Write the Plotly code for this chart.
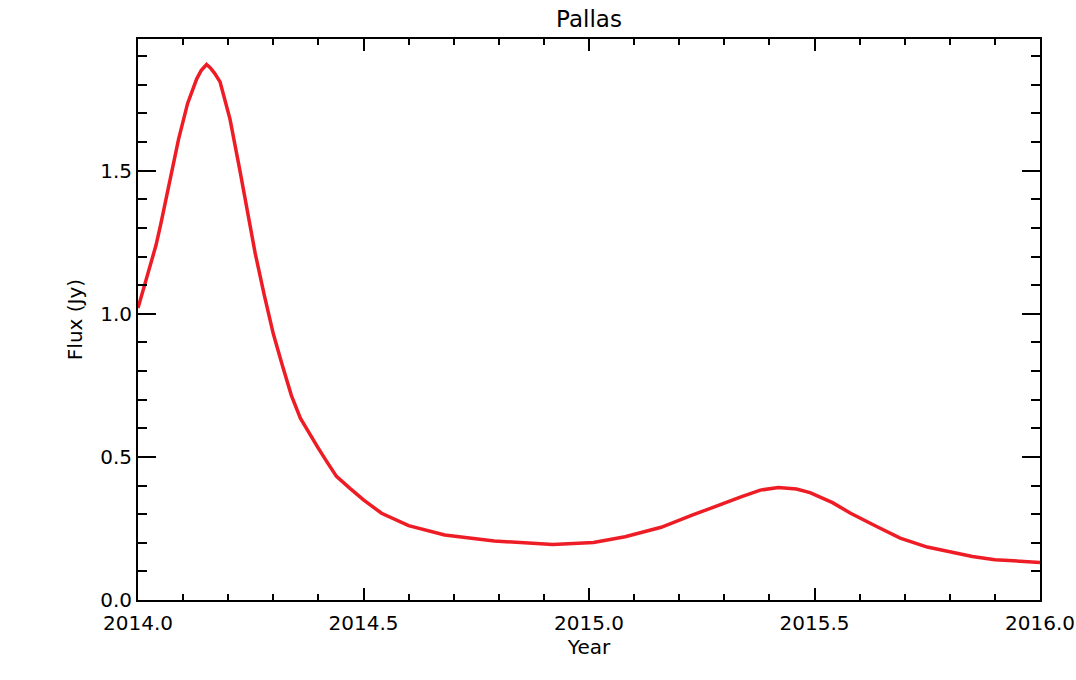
import plotly.graph_objects as go

# Pallas flux curve
years = [2014.00, 2014.02, 2014.04, 2014.05, 2014.07, 2014.09, 2014.11, 2014.13,
         2014.14, 2014.152, 2014.16, 2014.17, 2014.182, 2014.204, 2014.226, 2014.245,
         2014.26, 2014.28, 2014.30, 2014.32, 2014.34, 2014.36, 2014.38, 2014.40,
         2014.42, 2014.44, 2014.47, 2014.50, 2014.54, 2014.60, 2014.68, 2014.79,
         2014.92, 2015.01, 2015.08, 2015.16, 2015.23, 2015.30, 2015.34, 2015.38,
         2015.42, 2015.46, 2015.49, 2015.54, 2015.58, 2015.64, 2015.69, 2015.75,
         2015.80, 2015.85, 2015.90, 2015.95, 2016.00]
flux = [1.02, 1.13, 1.24, 1.31, 1.46, 1.61, 1.735, 1.82,
        1.85, 1.871, 1.86, 1.84, 1.81, 1.68, 1.50, 1.33,
        1.21, 1.065, 0.93, 0.82, 0.715, 0.635, 0.58, 0.53,
        0.48, 0.432, 0.39, 0.35, 0.303, 0.26, 0.227, 0.206,
        0.194, 0.201, 0.221, 0.254, 0.297, 0.34, 0.362, 0.384,
        0.393, 0.388, 0.375, 0.34, 0.303, 0.255, 0.216, 0.185,
        0.167, 0.152, 0.141, 0.135, 0.131]

font = "DejaVu Sans"

fig = go.Figure()
fig.add_trace(go.Scatter(
    x=years, y=flux, mode="lines",
    line=dict(color="#ee1c25", width=3.5),
    showlegend=False, hoverinfo="skip",
))

fig.update_layout(
    width=1076, height=680,
    margin=dict(l=138, r=36, t=39, b=80),
    paper_bgcolor="white", plot_bgcolor="white",
    title=dict(text="Pallas", x=(138 + 1040) / 2 / 1076, xanchor="center",
               y=1 - 19 / 680, yanchor="middle", automargin=False,
               font=dict(family=font, size=23, color="black")),
    font=dict(family=font, color="black"),
)

fig.update_xaxes(
    range=[2014, 2016], tickvals=[2014.0, 2014.5, 2015.0, 2015.5, 2016.0],
    tickformat=".1f", tickfont=dict(size=20), automargin=False,
    ticklabelstandoff=4,
    ticks="inside", ticklen=12, tickwidth=2, tickcolor="black",
    minor=dict(dtick=0.1, ticks="inside", ticklen=6, tickwidth=2, tickcolor="black"),
    showline=True, linewidth=2, linecolor="black", mirror="ticks",
    showgrid=False, zeroline=False,
    title=dict(text="Year", font=dict(size=20), standoff=4),
)
fig.update_yaxes(
    range=[0, 1.96], tickvals=[0.0, 0.5, 1.0, 1.5],
    tickformat=".1f", tickfont=dict(size=20), automargin=False,
    ticks="inside", ticklen=18, tickwidth=2, tickcolor="black",
    minor=dict(dtick=0.1, ticks="inside", ticklen=9, tickwidth=2, tickcolor="black"),
    showline=True, linewidth=2, linecolor="black", mirror="ticks",
    showgrid=False, zeroline=False,
    title=dict(text="Flux (Jy)", font=dict(size=20), standoff=12),
)

# drop the page's default body margin so the figure sits at the window corner
fig.write_html("out.html", config={"displayModeBar": False},
               post_script="document.body.style.margin='0';")
